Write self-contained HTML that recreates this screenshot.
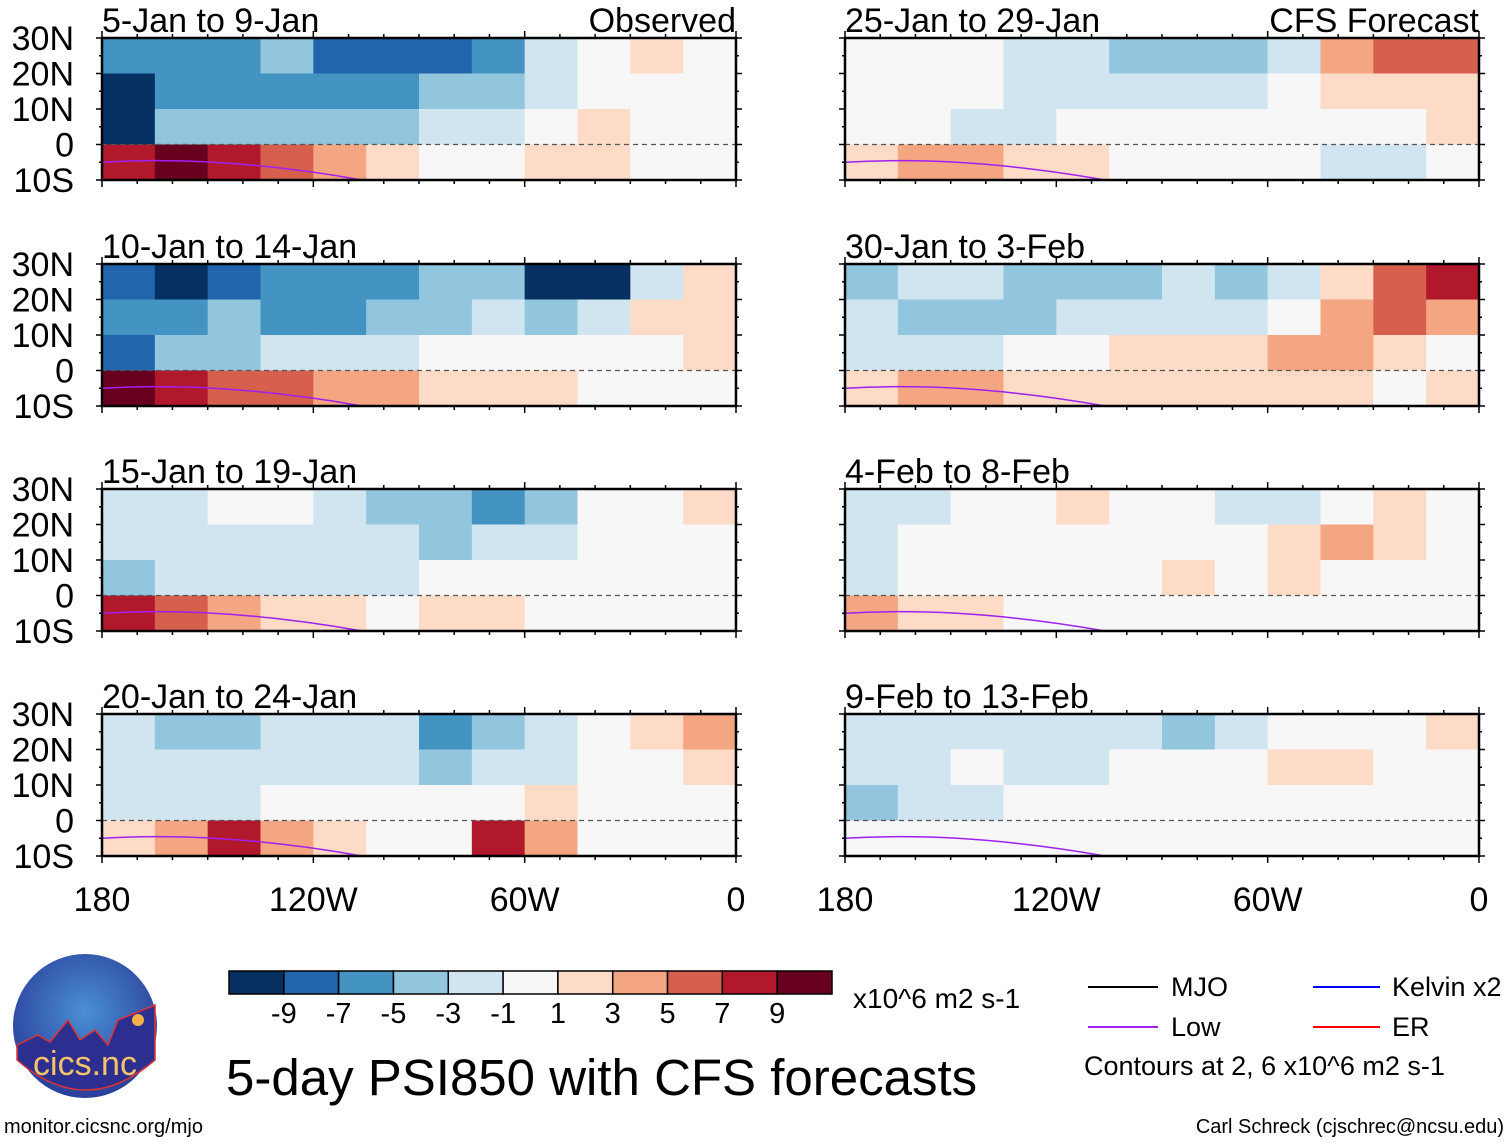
<!DOCTYPE html>
<html><head><meta charset="utf-8">
<style>
html,body{margin:0;padding:0;background:#fff;}
svg{display:block;font-family:"Liberation Sans",sans-serif;}
</style></head>
<body>
<svg id="fig" width="1510" height="1142" viewBox="0 0 1510 1142" xmlns="http://www.w3.org/2000/svg">
  <g id="panels"></g>
  <g id="colorbar"></g>
  <text x="853" y="1008" font-size="28">x10^6 m2 s-1</text>
  <text x="226" y="1095" font-size="51">5-day PSI850 with CFS forecasts</text>
  <g font-size="27">
    <line x1="1088" y1="987" x2="1158" y2="987" stroke="#000" stroke-width="2"/>
    <text x="1171" y="996">MJO</text>
    <line x1="1313" y1="987" x2="1380" y2="987" stroke="#0000ff" stroke-width="2"/>
    <text x="1392" y="996">Kelvin x2</text>
    <line x1="1088" y1="1027" x2="1158" y2="1027" stroke="#a020f0" stroke-width="2"/>
    <text x="1171" y="1036">Low</text>
    <line x1="1313" y1="1027" x2="1380" y2="1027" stroke="#ff0000" stroke-width="2"/>
    <text x="1392" y="1036">ER</text>
    <text x="1084" y="1075">Contours at 2, 6 x10^6 m2 s-1</text>
  </g>
  <text x="1504" y="1133" font-size="20" text-anchor="end">Carl Schreck (cjschrec@ncsu.edu)</text>
  <text x="4" y="1133" font-size="20">monitor.cicsnc.org/mjo</text>
  <g>
    <defs><radialGradient id="lg" cx="50%" cy="40%" r="60%"><stop offset="0" stop-color="#4a8fd6"/><stop offset="1" stop-color="#2a3f9a"/></radialGradient></defs>
    <circle cx="85" cy="1026" r="72" fill="url(#lg)"/>
    <path d="M17,1045 L38,1035 L50,1042 L68,1020 L80,1040 L95,1030 L108,1045 L118,1020 L155,1005 L155,1060 Q85,1120 17,1060 Z" fill="#2c2f8f" stroke="#d33" stroke-width="1.5"/>
    <circle cx="138" cy="1020" r="6" fill="#f6b04a"/>
    <text x="85" y="1075" font-size="34" fill="#f6c36a" text-anchor="middle">cics.nc</text>
  </g>
</svg>
<script>
// ---- data ----
const panelTitles = ["5-Jan to 9-Jan","10-Jan to 14-Jan","15-Jan to 19-Jan","20-Jan to 24-Jan","25-Jan to 29-Jan","30-Jan to 3-Feb","4-Feb to 8-Feb","9-Feb to 13-Feb"];
const latBands = [30,20,10,0,-10];
const lonEdges = [180,165,150,135,120,105,90,75,60,45,30,15,0];
const colorLevels = [-9,-7,-5,-3,-1,1,3,5,7,9];
const colorTickLabels = ["-9","-7","-5","-3","-1","1","3","5","7","9"];
const yTickLabels = ["30N","20N","10N","0","10S"];
const xTickLabels = ["180","120W","60W","0"];
const xTickLons = [180,120,60,0];
const p1 = [[-6,-6,-6,-4,-8,-8,-8,-6,-2,0,2,0],[-10,-6,-6,-6,-6,-6,-4,-4,-2,0,0,0],[-10,-4,-4,-4,-4,-4,-2,-2,0,2,0,0],[8,10,8,6,4,2,0,0,2,2,0,0]];
const p2 = [[-8,-10,-8,-6,-6,-6,-4,-4,-10,-10,-2,2],[-6,-6,-4,-6,-6,-4,-4,-2,-4,-2,2,2],[-8,-4,-4,-2,-2,-2,0,0,0,0,0,2],[10,8,6,6,4,4,2,2,2,0,0,0]];
const p3 = [[-2,-2,0,0,-2,-4,-4,-6,-4,0,0,2],[-2,-2,-2,-2,-2,-2,-4,-2,-2,0,0,0],[-4,-2,-2,-2,-2,-2,0,0,0,0,0,0],[8,6,4,2,2,0,2,2,0,0,0,0]];
const p4 = [[-2,-4,-4,-2,-2,-2,-6,-4,-2,0,2,4],[-2,-2,-2,-2,-2,-2,-4,-2,-2,0,0,2],[-2,-2,-2,0,0,0,0,0,2,0,0,0],[2,4,8,4,2,0,0,8,4,0,0,0]];
const p5 = [[0,0,0,-2,-2,-4,-4,-4,-2,4,6,6],[0,0,0,-2,-2,-2,-2,-2,0,2,2,2],[0,0,-2,-2,0,0,0,0,0,0,0,2],[2,4,4,2,2,0,0,0,0,-2,-2,0]];
const p6 = [[-4,-2,-2,-4,-4,-4,-2,-4,-2,2,6,8],[-2,-4,-4,-4,-2,-2,-2,-2,0,4,6,4],[-2,-2,-2,0,0,2,2,2,4,4,2,0],[2,4,4,2,2,2,2,2,2,2,0,2]];
const p7 = [[-2,-2,0,0,2,0,0,-2,-2,0,2,0],[-2,0,0,0,0,0,0,0,2,4,2,0],[-2,0,0,0,0,0,2,0,2,0,0,0],[4,2,2,0,0,0,0,0,0,0,0,0]];
const p8 = [[-2,-2,-2,-2,-2,-2,-4,-2,0,0,0,2],[-2,-2,0,-2,-2,0,0,0,2,2,0,0],[-4,-2,-2,0,0,0,0,0,0,0,0,0],[0,0,0,0,0,0,0,0,0,0,0,0]];
const panelData = [p1,p2,p3,p4,p5,p6,p7,p8];

const palette = ["#053061","#2166ac","#4393c3","#92c5de","#d1e5f0","#f7f7f7","#fddbc7","#f4a582","#d6604d","#b2182b","#67001f"];
const NS="http://www.w3.org/2000/svg";
function mk(tag, attrs, parent){const e=document.createElementNS(NS,tag);for(const k in attrs)e.setAttribute(k,attrs[k]);parent.appendChild(e);return e;}
function colorFor(v){let i=0;while(i<colorLevels.length && v>=colorLevels[i])i++;return palette[i];}

const W=634, H=142;
const lefts=[102,845], tops=[38,264,489,714];
const panels=document.getElementById('panels');
panelData.forEach((grid,pi)=>{
  const px=lefts[Math.floor(pi/4)], py=tops[pi%4];
  const xs=lon=>px+(180-lon)/180*W;
  const ys=lat=>py+(30-lat)/40*H;
  const g=mk('g',{},panels);
  
  
  grid.forEach((row,ri)=>{
    row.forEach((v,ci)=>{
      const x0=xs(lonEdges[ci]), x1=xs(lonEdges[ci+1]);
      const y0=ys(latBands[ri]), y1=ys(latBands[ri+1]);
      const r=mk('rect',{x:x0,y:y0,width:x1-x0+0.5,height:y1-y0+0.5,fill:colorFor(v)},g);
      
      
    });
  });
  const eq=mk('line',{x1:px,x2:px+W,y1:ys(0),y2:ys(0),stroke:'#555','stroke-width':1.2,'stroke-dasharray':'5,4'},g);
  
  
  const lp=mk('path',{d:`M${px},${ys(-5)} Q${px+120},${ys(-3)} ${px+260},${ys(-10)}`,fill:'none',stroke:'#a020f0','stroke-width':1.5},g);
  
  
  const fr=mk('rect',{x:px,y:py,width:W,height:H,fill:'none',stroke:'#000','stroke-width':2.5},g);
  
  
  for(let lon=180;lon>=0;lon-=10){
    const len=(lon%60===0)?7:4;
    mk('line',{x1:xs(lon),x2:xs(lon),y1:py,y2:py-len,stroke:'#000','stroke-width':1.5},g);
    mk('line',{x1:xs(lon),x2:xs(lon),y1:py+H,y2:py+H+len,stroke:'#000','stroke-width':1.5},g);
  }
  for(let lat=30;lat>=-10;lat-=5){
    const len=(lat%10===0)?6:3;
    mk('line',{x1:px,x2:px-len,y1:ys(lat),y2:ys(lat),stroke:'#000','stroke-width':1.5},g);
    mk('line',{x1:px+W,x2:px+W+len,y1:ys(lat),y2:ys(lat),stroke:'#000','stroke-width':1.5},g);
  }
  const t=mk('text',{x:px,y:py-6,'font-size':34},g);
  t.textContent=panelTitles[pi];
  
  
  if(pi===0||pi===4){
    const s=mk('text',{x:px+W,y:py-6,'font-size':34,'text-anchor':'end'},g);
    s.textContent=pi===0?'Observed':'CFS Forecast';
    
    
  }
  if(pi<4){
    latBands.forEach((lat,i)=>{
      const yt=mk('text',{x:74,y:ys(lat)+12,'font-size':34,'text-anchor':'end'},g);
      yt.textContent=yTickLabels[i];
      
      
    });
  }
  if(pi%4===3){
    xTickLons.forEach((lon,i)=>{
      const xt=mk('text',{x:xs(lon),y:py+H+55,'font-size':34,'text-anchor':'middle'},g);
      xt.textContent=xTickLabels[i];
      
      
    });
  }
});
const cb=document.getElementById('colorbar');
const cbx=229, cby=971, cbw=603, cbh=23, bw=cbw/palette.length;
palette.forEach((c,i)=>{
  const r=mk('rect',{x:cbx+i*bw,y:cby,width:bw,height:cbh,fill:c,stroke:'#000','stroke-width':1.5},cb);
  
  
});
colorTickLabels.forEach((lab,i)=>{
  const t=mk('text',{x:cbx+(i+1)*bw,y:cby+52,'font-size':29,'text-anchor':'middle'},cb);
  t.textContent=lab;
  
  
});
</script>
</body></html>
